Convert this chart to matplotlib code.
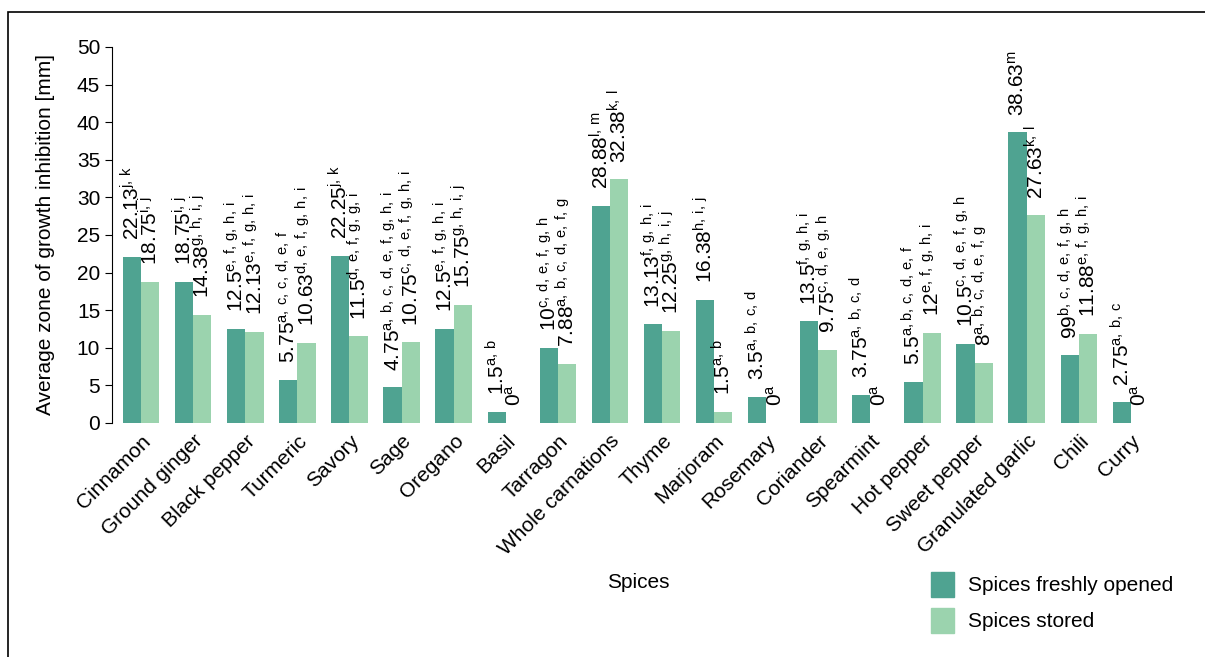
import matplotlib.pyplot as plt
import numpy as np
from matplotlib.patches import Rectangle, Patch

plt.rcParams['font.family'] = ['Liberation Sans', 'DejaVu Sans']
plt.rcParams['mathtext.fontset'] = 'custom'
plt.rcParams['mathtext.rm'] = 'Liberation Sans'

spices = ["Cinnamon", "Ground ginger", "Black pepper", "Turmeric", "Savory", "Sage",
          "Oregano", "Basil", "Tarragon", "Whole carnations", "Thyme", "Marjoram",
          "Rosemary", "Coriander", "Spearmint", "Hot pepper", "Sweet pepper",
          "Granulated garlic", "Chili", "Curry"]
fresh = [22.13, 18.75, 12.5, 5.75, 22.25, 4.75, 12.5, 1.5, 10, 28.88, 13.13, 16.38,
         3.5, 13.5, 3.75, 5.5, 10.5, 38.63, 9, 2.75]
stored = [18.75, 14.38, 12.13, 10.63, 11.5, 10.75, 15.75, 0, 7.88, 32.38, 12.25, 1.5,
          0, 9.75, 0, 12, 8, 27.63, 11.88, 0]
fresh_text = ["22.13", "18.75", "12.5", "5.75", "22.25", "4.75", "12.5", "1.5", "10",
              "28.88", "13.13", "16.38", "3.5", "13.5", "3.75", "5.5", "10.5", "38.63",
              "99", "2.75"]
stored_text = ["18.75", "14.38", "12.13", "10.63", "11.5", "10.75", "15.75", "0", "7.88",
               "32.38", "12.25", "1.5", "0", "9.75", "0", "12", "8", "27.63", "11.88", "0"]
fresh_sup = ["j, k", "i, j", "e, f, g, h, i", "a, c, c, d, e, f", "j, k",
             "a, b, c, d, e, f, g, h, i", "e, f, g, h, i", "a, b", "c, d, e, f, g, h",
             "l, m", "f, g, h, i", "h, i, j", "a, b, c, d", "f, g, h, i", "a, b, c, d",
             "a,b, c, d, e, f", "c, d, e, f, g, h", "m", "b, c, d, e, f, g, h", "a, b, c"]
stored_sup = ["i, j", "g, h, i, j", "e, f, g, h, i", "d, e, f, g, h, i", "d, e, f, g, g, i",
              "c, d, e, f, g, h, i", "g, h, i, j", "a", "a, b, c, d, e, f, g", "k, l",
              "g, h, i, j", "a, b", "a", "c, d, e, g, h", "a", "e, f, g, h, i",
              "a, b, c, d, e, f, g", "k, l", "e, f, g, h, i", "a"]

c_fresh = "#4fa391"
c_stored = "#9bd3ae"

fig = plt.figure(figsize=(12.05, 6.57), dpi=100)
ax = fig.add_axes([0.0929, 0.3562, 0.8698, 0.5723])

x = np.arange(len(spices))
w = 0.35
ax.bar(x - w/2, fresh, w, color=c_fresh)
ax.bar(x + w/2, stored, w, color=c_stored)

def lab(s, sup):
    sup = sup.replace(" ", r"\,")
    return r"$\mathregular{" + s + "^{" + sup + "}}$"

# value labels with significance letters, as in the original
for i in range(len(spices)):
    ax.text(x[i] - w/2, fresh[i] + 2.2, lab(fresh_text[i], fresh_sup[i]), rotation=90,
            ha='center', va='bottom', fontsize=15)
    ax.text(x[i] + w/2, stored[i] + 2.2, lab(stored_text[i], stored_sup[i]), rotation=90,
            ha='center', va='bottom', fontsize=15)

ax.set_xlim(-0.56, len(spices) - 0.44)
ax.set_ylim(0, 50)
ax.set_yticks(np.arange(0, 51, 5))
ax.set_xticks(x)
ax.set_xticklabels(spices, rotation=45, ha='right', rotation_mode='anchor', fontsize=15)
ax.tick_params(axis='x', length=0, pad=6)
ax.tick_params(axis='y', labelsize=15, length=5)
for s in ['top', 'right', 'bottom']:
    ax.spines[s].set_visible(False)
ax.set_ylabel("Average zone of growth inhibition [mm]", fontsize=15)
ax.yaxis.set_label_coords(-0.054, 0.5)
fig.text(0.53, 0.105, "Spices", ha='center', fontsize=15)

handles = [Patch(color=c_fresh, label="Spices freshly opened"),
           Patch(color=c_stored, label="Spices stored")]
fig.legend(handles=handles, loc='lower left', bbox_to_anchor=(0.757, 0.008), frameon=False,
           fontsize=15, handlelength=1.1, handleheight=1.5, labelspacing=0.5,
           handletextpad=0.7)

fig.add_artist(Rectangle((0.0066, -0.1), 1.2, 1.0817, transform=fig.transFigure,
                         fill=False, lw=1.2, edgecolor='black'))

fig.savefig("out.png", dpi=100)
